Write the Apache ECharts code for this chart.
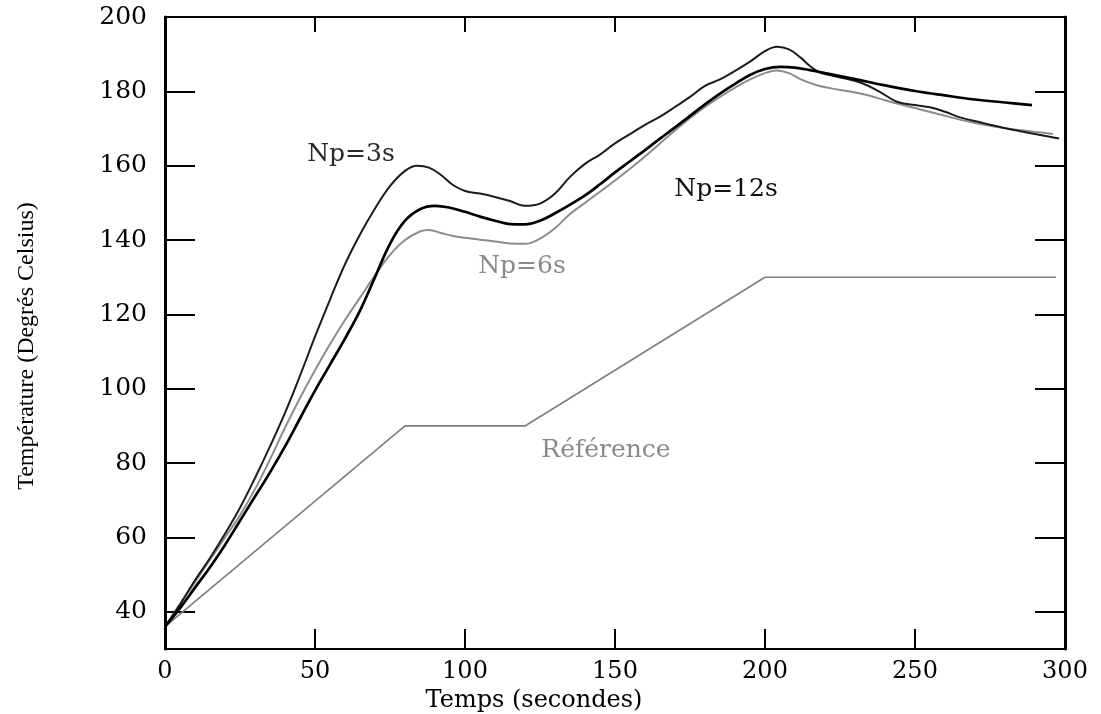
<!DOCTYPE html>
<html>
<head>
<meta charset="utf-8">
<script src="https://cdn.jsdelivr.net/npm/echarts@6/dist/echarts.min.js"></script>
<style>
  html, body { margin: 0; padding: 0; background: #fff; }
  #chart { width: 1101px; height: 714px; }
</style>
</head>
<body>
<div id="chart"></div>
<script>
// valeurs : [temps (s), température (°C)]
const np3s = [[0,36],[5,42],[10,48.5],[15,54.5],[20,61],[25,68],[30,76],[35,84.5],[40,93.5],[45,103.5],[50,114],[55,124],[60,133.5],[65,141.5],[70,148.5],[75,154.5],[80,158.6],[84,160],[88,159.5],[92,157.5],[96,154.8],[100,153.2],[105,152.5],[110,151.6],[115,150.5],[120,149.2],[125,149.8],[130,152.5],[135,157],[140,160.5],[145,163],[150,166],[155,168.5],[160,171],[165,173.2],[170,175.8],[175,178.5],[180,181.5],[185,183.2],[190,185.5],[195,188],[200,190.8],[204,192],[208,191.3],[212,189],[215,186.8],[218,185.2],[222,184.3],[226,183.6],[232,182.3],[238,180],[244,177.2],[250,176.3],[255,175.7],[260,174.5],[265,173],[272,171.6],[279,170.3],[290,168.5],[298,167.3]];
const np6s = [[0,36],[5,42],[10,48],[15,54],[20,60],[25,66],[30,73],[35,81],[40,89.5],[45,97.5],[50,105],[55,112],[60,118.5],[65,124.5],[70,130.5],[75,136],[80,140],[85,142.3],[88,142.7],[92,141.9],[96,141.1],[100,140.6],[105,140.1],[110,139.6],[115,139.1],[120,139],[125,140.4],[130,143.2],[135,147],[140,150],[145,153],[150,156],[155,159.2],[160,162.5],[165,166],[170,169.5],[175,172.8],[180,175.8],[185,178.5],[190,181],[195,183.2],[200,184.9],[204,185.6],[208,184.9],[212,183.2],[217,181.7],[222,180.8],[228,180],[234,179],[240,177.6],[250,175.5],[262,173],[270,171.5],[280,170.1],[290,169.1],[296,168.5]];
const np12s = [[0,36],[5,41],[10,46.5],[15,52],[20,58],[25,64.5],[30,71],[35,77.5],[40,84.5],[45,92],[50,99.5],[55,106.5],[60,113.5],[65,121],[70,130],[75,139],[80,145.2],[85,148.3],[90,149.2],[95,148.7],[100,147.6],[105,146.3],[110,145.2],[115,144.3],[120,144.2],[125,145.2],[130,147.2],[135,149.5],[140,152],[145,155],[150,158.2],[155,161.2],[160,164.2],[165,167.3],[170,170.3],[175,173.4],[180,176.5],[185,179.4],[190,182],[195,184.4],[200,186],[205,186.6],[210,186.4],[215,185.7],[220,184.9],[230,183.3],[240,181.6],[250,180.1],[260,178.9],[270,177.8],[280,177],[289,176.3]];
const reference = [[0,36],[80,90],[120,90],[200,130],[297,130]];

const xTicks = [0, 50, 100, 150, 200, 250, 300];
const yTicks = [40, 60, 80, 100, 120, 140, 160, 180, 200];

// position des étiquettes de courbes (coordonnées des données)
const labelNp3 = [62, 163];
const labelNp6 = [119, 133];
const labelNp12 = [187, 153.5];
const labelRef = [147, 83.5];

const serif = 'DejaVu Serif';

function curveLabel(coord, text, color) {
    return {
        symbol: 'circle',
        symbolSize: 0,
        silent: true,
        data: [{
            coord: coord,
            label: {
                show: true,
                position: 'inside',
                formatter: text,
                color: color,
                fontFamily: serif,
                fontSize: 25
            }
        }]
    };
}

var chartDom = document.getElementById('chart');
var myChart = echarts.init(chartDom);
var option;

option = {
    animation: false,
    backgroundColor: '#fff',
    grid: { left: 165, right: 36, top: 17, bottom: 65, outerBoundsMode: 'none', containLabel: false },
    xAxis: [
        {
            type: 'value',
            min: 0,
            max: 300,
            interval: 50,
            name: 'Temps (secondes)',
            nameLocation: 'middle',
            nameGap: 35,
            nameTextStyle: { fontFamily: serif, fontSize: 24, color: '#000', padding: [0, 162, 0, 0] },
            axisLine: { show: true, onZero: false, lineStyle: { color: '#000', width: 2 } },
            axisTick: { show: true, inside: true, length: 20, lineStyle: { color: '#000', width: 2 }, customValues: xTicks.slice(1, -1) },
            axisLabel: { fontFamily: serif, fontSize: 24, color: '#000', margin: 11, customValues: xTicks },
            splitLine: { show: false }
        },
        {
            type: 'value',
            position: 'top',
            min: 0,
            max: 300,
            interval: 50,
            axisLine: { show: true, onZero: false, lineStyle: { color: '#000', width: 2 } },
            axisTick: { show: true, inside: true, length: 15, lineStyle: { color: '#000', width: 2 }, customValues: xTicks.slice(1, -1) },
            axisLabel: { show: false },
            splitLine: { show: false }
        }
    ],
    yAxis: [
        {
            type: 'value',
            min: 30,
            max: 200,
            name: 'Température (Degrés Celsius)',
            nameLocation: 'middle',
            nameGap: 126,
            nameTextStyle: { fontFamily: 'Liberation Serif', fontSize: 24, color: '#000', padding: [0, 26, 0, 0] },
            axisLine: { show: true, onZero: false, lineStyle: { color: '#000', width: 3 } },
            axisTick: { show: true, inside: true, length: 30, lineStyle: { color: '#000', width: 2 }, customValues: yTicks.slice(0, -1) },
            axisLabel: { fontFamily: serif, fontSize: 25, color: '#000', margin: 18, customValues: yTicks },
            splitLine: { show: false }
        },
        {
            type: 'value',
            position: 'right',
            min: 30,
            max: 200,
            axisLine: { show: true, onZero: false, lineStyle: { color: '#000', width: 3 } },
            axisTick: { show: true, inside: true, length: 30, lineStyle: { color: '#000', width: 2 }, customValues: yTicks.slice(0, -1) },
            axisLabel: { show: false },
            splitLine: { show: false }
        }
    ],
    series: [
        {
            name: 'Référence',
            type: 'line',
            data: reference,
            showSymbol: false,
            lineStyle: { color: '#808080', width: 1.7 },
            markPoint: curveLabel(labelRef, 'Référence', '#8a8a8a')
        },
        {
            name: 'Np=6s',
            type: 'line',
            data: np6s,
            smooth: 0.4,
            showSymbol: false,
            lineStyle: { color: '#8c8c8c', width: 2 },
            markPoint: curveLabel(labelNp6, 'Np=6s', '#8a8a8a')
        },
        {
            name: 'Np=3s',
            type: 'line',
            data: np3s,
            smooth: 0.4,
            showSymbol: false,
            lineStyle: { color: '#1c1c1c', width: 2 },
            markPoint: curveLabel(labelNp3, 'Np=3s', '#2a2a2a')
        },
        {
            name: 'Np=12s',
            type: 'line',
            data: np12s,
            smooth: 0.4,
            showSymbol: false,
            lineStyle: { color: '#000', width: 2.7 },
            markPoint: curveLabel(labelNp12, 'Np=12s', '#111')
        }
    ]
};

option && myChart.setOption(option);
</script>
</body>
</html>
